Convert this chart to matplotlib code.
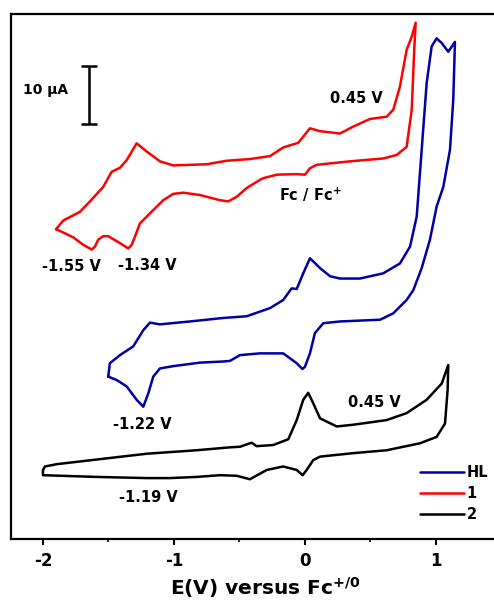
import numpy as np
import matplotlib
matplotlib.use("Agg")
import matplotlib.pyplot as plt
from matplotlib.lines import Line2D

plt.rcParams['font.family'] = ['DejaVu Sans']
plt.rcParams['font.weight'] = 'bold'
plt.rcParams['mathtext.fontset'] = 'custom'
plt.rcParams['mathtext.bf'] = 'DejaVu Sans:bold'
plt.rcParams['mathtext.rm'] = 'DejaVu Sans:bold'
plt.rcParams['mathtext.default'] = 'bf'
plt.rcParams['lines.solid_joinstyle'] = 'round'
plt.rcParams['lines.solid_capstyle'] = 'round'

# potentials (V vs Fc+/0) and currents (uA, stacked with offsets)
E_1 = [-1.90, -1.845, -1.718, -1.641, -1.540, -1.476, -1.412, -1.361, -1.285, -1.208,
       -1.107, -1.005, -0.750, -0.598, -0.420, -0.267, -0.166, -0.051, 0.038, 0.115,
       0.267, 0.369, 0.496, 0.624, 0.674, 0.725, 0.776, 0.815, 0.845,
       0.834, 0.815, 0.776, 0.700, 0.598, 0.344, 0.089, 0.038, 0.0, -0.063,
       -0.216, -0.318, -0.344, -0.445, -0.521, -0.585, -0.649, -0.802, -0.929, -1.005,
       -1.082, -1.158, -1.260, -1.298, -1.323, -1.349, -1.412, -1.502, -1.540, -1.578,
       -1.603, -1.628, -1.692, -1.769, -1.870, -1.90]
I_1 = [53.4, 54.9, 56.4, 58.2, 60.7, 63.3, 64.0, 65.3, 68.2, 66.8,
       65.1, 64.4, 64.6, 65.2, 65.5, 66.0, 67.5, 68.3, 70.8, 70.3,
       69.9, 71.1, 72.4, 72.8, 74.0, 78.0, 84.3, 86.6, 89.0,
       84.3, 74.0, 67.6, 66.2, 65.6, 65.1, 64.5, 63.9, 62.8, 62.9,
       62.8, 62.2, 61.9, 60.5, 59.0, 58.2, 58.4, 59.3, 59.7, 59.5,
       58.4, 56.7, 54.4, 52.1, 50.7, 50.1, 51.0, 52.2, 52.2, 51.6,
       50.4, 49.9, 50.7, 52.0, 53.1, 53.4]

E_HL = [-1.502, -1.489, -1.412, -1.311, -1.234, -1.183, -1.107, -0.878, -0.624, -0.445,
        -0.267, -0.166, -0.102, -0.063, -0.013, 0.038, 0.115, 0.191, 0.267, 0.420,
        0.598, 0.725, 0.802, 0.853, 0.891, 0.929, 0.967, 1.005, 1.044, 1.094, 1.145,
        1.132, 1.107, 1.056, 1.005, 0.954, 0.891, 0.827, 0.776, 0.674, 0.573,
        0.267, 0.140, 0.076, 0.038, 0.0, -0.019, -0.063, -0.166, -0.344, -0.496,
        -0.573, -0.624, -0.802, -1.005, -1.107, -1.158, -1.196, -1.234, -1.285, -1.361,
        -1.437, -1.502]
I_HL = [28.0, 30.3, 31.7, 33.2, 36.0, 37.3, 37.0, 37.5, 38.1, 38.4,
        39.8, 41.2, 43.2, 43.1, 45.8, 48.4, 46.7, 45.3, 44.9, 44.9,
        45.8, 47.5, 50.4, 55.6, 67.1, 78.6, 84.9, 86.3, 85.5, 84.0, 85.7,
        75.7, 67.1, 60.7, 57.3, 51.6, 46.7, 42.9, 41.2, 38.9, 37.8,
        37.5, 37.2, 35.5, 32.0, 29.7, 29.3, 30.3, 32.0, 32.0, 31.7,
        30.7, 30.6, 30.4, 29.8, 29.4, 28.0, 25.1, 22.8, 24.0, 26.3,
        27.4, 28.0]

E_2 = [-2.0, -1.985, -1.895, -1.590, -1.208, -0.827, -0.573, -0.496, -0.407, -0.369,
       -0.242, -0.127, -0.063, -0.013, 0.025, 0.063, 0.115, 0.242, 0.369, 0.624,
       0.776, 0.929, 1.044, 1.094,
       1.089, 1.069, 1.005, 0.878, 0.624, 0.369, 0.115, 0.063, 0.013, -0.018,
       -0.063, -0.166, -0.292, -0.420, -0.521, -0.649, -0.827, -1.031, -1.208, -1.590,
       -2.0, -2.0]
I_2 = [11.9, 12.5, 12.9, 13.7, 14.7, 15.3, 15.8, 15.9, 16.6, 16.0,
       16.2, 17.2, 20.5, 24.0, 25.2, 23.4, 20.8, 19.4, 19.7, 20.5,
       21.7, 24.0, 26.8, 30.0,
       25.7, 19.9, 17.6, 16.5, 15.3, 14.8, 14.2, 13.6, 11.9, 11.0,
       11.9, 12.5, 11.9, 10.3, 10.9, 11.0, 10.7, 10.5, 10.5, 10.7,
       11.0, 11.9]

labels = ["HL", "1", "2"]
colors = ["#0000A8", "#FF0000", "#000000"]

fig = plt.figure(figsize=(4.94, 6.01), dpi=100)
ax = fig.add_axes([11/494, 62/601, 483/494, 525/601])

ax.plot(E_HL, I_HL, color=colors[0], lw=1.8)
ax.plot(E_1, I_1, color=colors[1], lw=1.8)
ax.plot(E_2, I_2, color=colors[2], lw=1.8)

ax.set_xlim(-2.244, 1.443)
ax.set_ylim(0, 90.5)
ax.set_yticks([])
ax.spines['right'].set_visible(False)
for s in ['left', 'top', 'bottom']:
    ax.spines[s].set_linewidth(1.6)
ax.set_xticks([-2, -1, 0, 1])
ax.set_xticklabels(['-2', '-1', '0', '1'])
ax.set_xticks([-1.5, -0.5, 0.5], minor=True)
ax.tick_params(axis='x', which='major', direction='out', length=4.5, width=1.5,
               labelsize=12, pad=5)
ax.tick_params(axis='x', which='minor', direction='out', length=2.5, width=1.2)

# 10 uA scale bar
ax.errorbar([-1.649], [76.6], yerr=5, color='black', lw=1.8, capsize=5.8, capthick=1.8)
ax.text(-1.977, 77.4, '10 \u03bcA', ha='center', va='center', fontsize=10, fontweight='bold')

notes = [(-1.779, 46.9, '-1.55 V'), (-1.206, 47.2, '-1.34 V'), (0.389, 76.0, '0.45 V'),
         (0.038, 59.3, 'Fc / Fc$^{+}$'), (-1.244, 19.8, '-1.22 V'),
         (-1.198, 7.2, '-1.19 V'), (0.527, 23.6, '0.45 V')]
for x, y, t in notes:
    ax.text(x, y, t, ha='center', va='center', fontsize=10.5, fontweight='bold')

handles = [Line2D([], [], color=c, lw=1.8) for c in colors]
fig.legend(handles, labels, loc='upper left', bbox_to_anchor=(420/494, 1 - 465/601),
           frameon=False, fontsize=10.5, handlelength=3.0, handletextpad=0.2,
           labelspacing=0.42, borderpad=0, borderaxespad=0)

fig.text(265/494, 1 - 595/601, 'E(V) versus Fc$^{+/0}$', ha='center', va='baseline',
         fontsize=14.5, fontweight='bold')

fig.savefig('out.png', dpi=100)
